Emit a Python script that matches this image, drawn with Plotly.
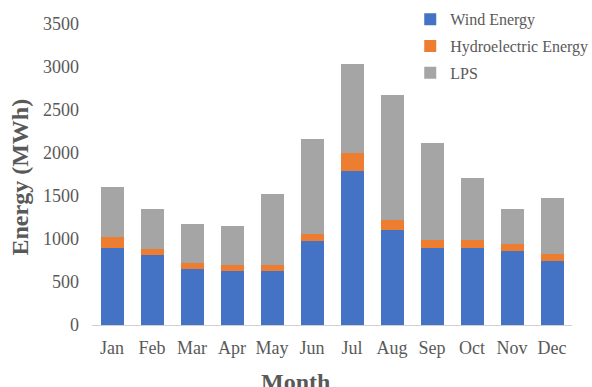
import plotly.graph_objects as go

months = ["Jan", "Feb", "Mar", "Apr", "May", "Jun", "Jul", "Aug", "Sep", "Oct", "Nov", "Dec"]
wind_energy = [900, 810, 650, 630, 630, 975, 1790, 1100, 900, 900, 855, 750]
hydro_energy = [120, 70, 70, 70, 70, 85, 210, 125, 85, 85, 85, 75]
lps = [580, 470, 450, 450, 820, 1100, 1040, 1455, 1135, 730, 410, 655]

y_ticks = [0, 500, 1000, 1500, 2000, 2500, 3000, 3500]

serif = "Liberation Serif, Times New Roman, serif"
text_grey = "#595959"

fig = go.Figure()
series = [
    ("Wind Energy", wind_energy, "#4472c4"),
    ("Hydroelectric Energy", hydro_energy, "#ed7d31"),
    ("LPS", lps, "#a5a5a5"),
]
for name, vals, color in series:
    fig.add_trace(go.Bar(
        x=months, y=vals, name=name, legendgroup=name,
        marker=dict(color=color, line=dict(width=0)),
    ))

fig.update_layout(
    barmode="stack",
    bargap=0.425,
    width=592, height=387,
    margin=dict(l=92, r=20, t=24, b=62, autoexpand=False),
    plot_bgcolor="white", paper_bgcolor="white",
    font=dict(family=serif, color=text_grey, size=18),
    showlegend=True,
    legend=dict(
        x=0.663, y=1.072, xanchor="left", yanchor="top",
        traceorder="grouped", tracegroupgap=3, itemwidth=30,
        font=dict(family=serif, size=16, color=text_grey),
        bgcolor="rgba(0,0,0,0)",
    ),
    xaxis=dict(
        showline=True, linecolor="#d0d0d0", linewidth=1,
        ticks="", showgrid=False, ticklabelstandoff=6,
        tickfont=dict(family=serif, size=18, color=text_grey),
    ),
    yaxis=dict(
        range=[0, 3500], tickvals=y_ticks, showgrid=False,
        zeroline=False, showline=False, ticks="", ticklabelstandoff=12,
        tickfont=dict(family=serif, size=18, color=text_grey),
    ),
    annotations=[
        dict(text="<b>Energy (MWh)</b>", xref="paper", yref="paper",
             x=-0.15, y=0.49, textangle=-90, showarrow=False,
             xanchor="center", yanchor="middle",
             font=dict(family=serif, size=24, color=text_grey)),
        dict(text="<b>Month</b>", xref="paper", yref="paper",
             x=0.423, y=-0.14, showarrow=False,
             xanchor="center", yanchor="top",
             font=dict(family=serif, size=24, color=text_grey)),
    ],
)

fig.write_html("out.html")
